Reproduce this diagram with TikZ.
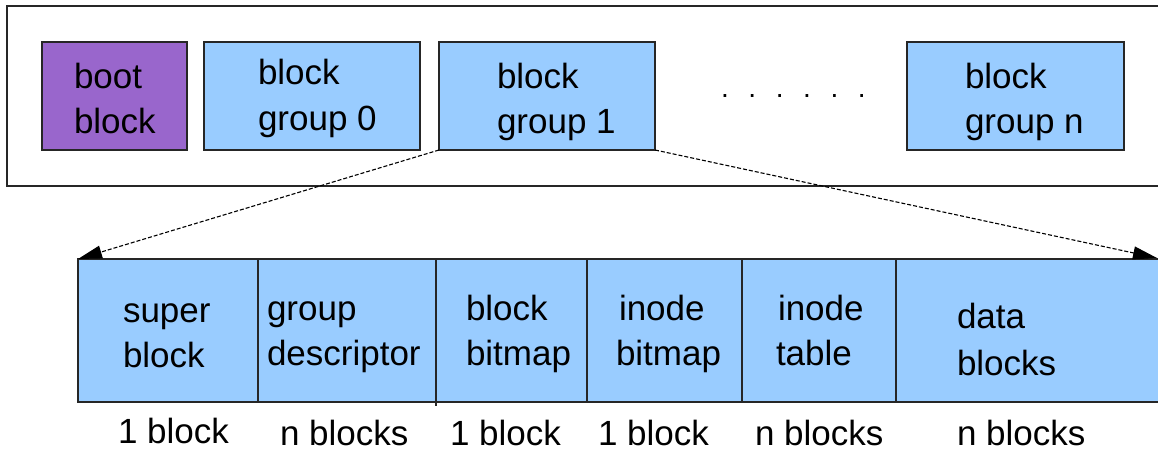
\documentclass[tikz,border=0pt]{standalone}
\usepackage{fontspec}
\setmainfont{Liberation Sans}
\usetikzlibrary{arrows.meta}
\definecolor{cellblue}{HTML}{99CCFF}
\definecolor{bootpurple}{HTML}{9966CC}
\tikzset{
  box/.style={draw=black!85, line width=1.4pt, inner sep=0pt, outer sep=0pt, anchor=north west},
  txt/.style={font=\fontsize{35}{42}\selectfont, inner sep=0pt, outer sep=0pt, anchor=base west},
  link/.style={draw=black, line width=1.1pt, dash pattern=on 4pt off 2pt, -{Triangle[length=24pt,width=13pt]}},
  frame/.style={draw=black!85, line width=1.6pt}
}
\begin{document}
\begin{tikzpicture}[x=1pt,y=-1pt]
\useasboundingbox (0,0) rectangle (1158,452);
% outer frame (open to the right)
\draw[frame] (1170,6) -- (7,6) -- (7,186) -- (1170,186);
% top row
\node[box, fill=bootpurple, minimum width=145pt, minimum height=108pt] (boot) at (42,42) {};
\node[box, fill=cellblue, minimum width=216pt, minimum height=108pt] (g0) at (204,42) {};
\node[box, fill=cellblue, minimum width=216pt, minimum height=108pt] (g1) at (439,42) {};
\node[box, fill=cellblue, minimum width=217pt, minimum height=108pt] (gn) at (907,42) {};
\node[txt] (t1) at (74,88) {boot};
\node[txt] (t2) at (74,133) {block};
\node[txt] (t3) at (258,84) {block};
\node[txt] (t4) at (258,130) {group 0};
\node[txt] (t5) at (497,88) {block};
\node[txt] (t6) at (497,133) {group 1};
\node[txt] (t7) at (965,88) {block};
\node[txt] (t8) at (965,133) {group n};
\node[txt, font=\fontsize{28}{34}\selectfont] (dots) at (721,97) {.\hspace{19.6pt}.\hspace{19.6pt}.\hspace{19.6pt}.\hspace{19.6pt}.\hspace{19.6pt}.};
% bottom strip
\node[box, fill=cellblue, minimum width=180pt, minimum height=143pt] (sb) at (78,259) {};
\node[box, fill=cellblue, minimum width=178pt, minimum height=143pt] (gd) at (258,259) {};
\node[box, fill=cellblue, minimum width=151pt, minimum height=143pt] (bb) at (436,259) {};
\node[box, fill=cellblue, minimum width=155pt, minimum height=143pt] (ib) at (587,259) {};
\node[box, fill=cellblue, minimum width=154pt, minimum height=143pt] (it) at (742,259) {};
\node[box, fill=cellblue, minimum width=280pt, minimum height=143pt] (db) at (896,259) {};
\draw[draw=black!85, line width=1.4pt] (gd.north east) -- ([yshift=-4pt]gd.south east);
\node[txt] (s1) at (123,322) {super};
\node[txt] (s2) at (123,367) {block};
\node[txt] (s3) at (267,320) {group};
\node[txt] (s4) at (267,365) {descriptor};
\node[txt] (s5) at (466,320) {block};
\node[txt] (s6) at (466,365) {bitmap};
\node[txt] (s7) at (619,320) {inode};
\node[txt] (s8) at (616,365) {bitmap};
\node[txt] (s9) at (778,320) {inode};
\node[txt] (s10) at (776,365) {table};
\node[txt] (s11) at (957,328) {data};
\node[txt] (s12) at (957,375) {blocks};
% sizes
\node[txt] (z1) at (118,443) {1 block};
\node[txt] (z2) at (280,445) {n blocks};
\node[txt] (z3) at (450,445) {1 block};
\node[txt] (z4) at (598,445) {1 block};
\node[txt] (z5) at (755,445) {n blocks};
\node[txt] (z6) at (957,445) {n blocks};
% connectors
\coordinate (rtip) at (1157,258);
\draw[link] (g1.south west) -- (sb.north west);
\draw[link] (g1.south east) -- (rtip);
\end{tikzpicture}
\end{document}
